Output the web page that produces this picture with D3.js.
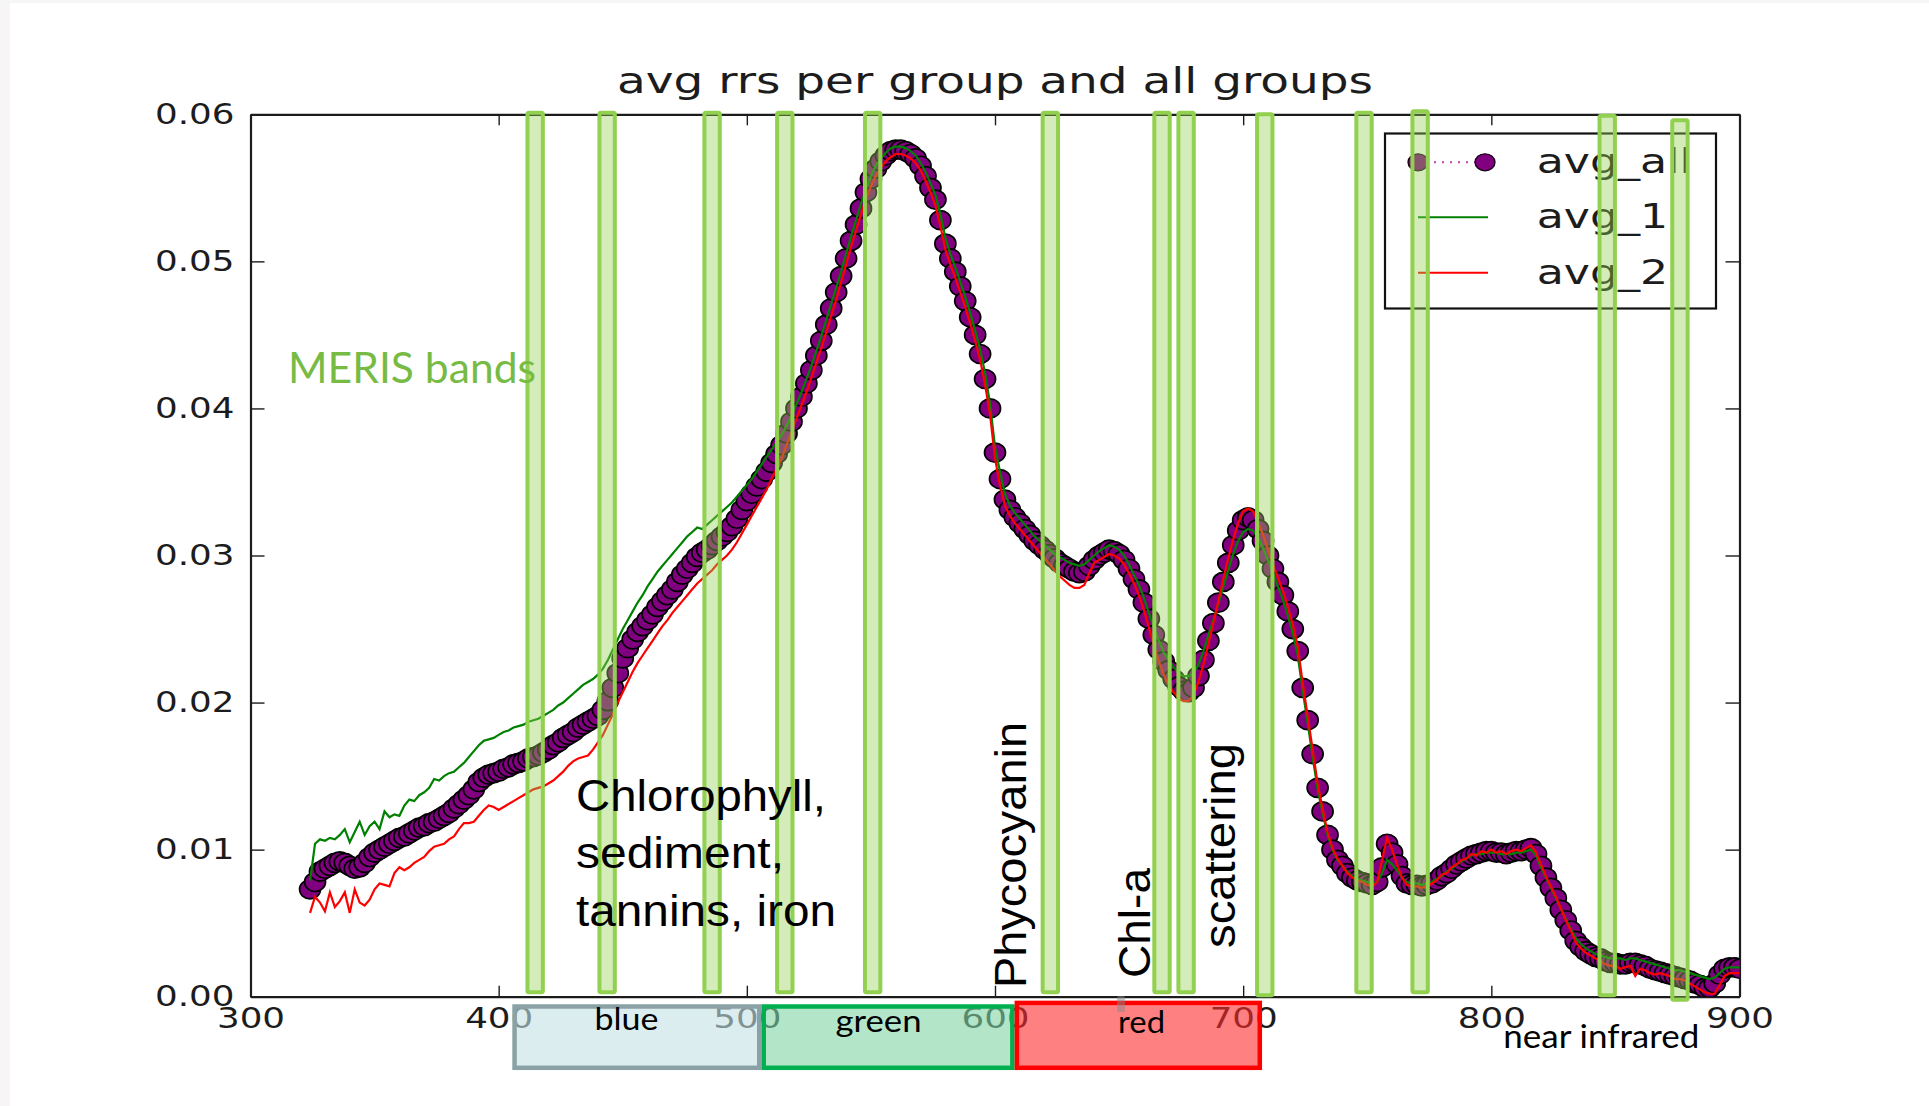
<!DOCTYPE html>
<html>
<head>
<meta charset="utf-8">
<script src="https://cdn.jsdelivr.net/npm/d3@7"></script>
<style>
body { margin: 0; background: #fff; }
svg { display: block; }
</style>
</head>
<body>
<svg id="chart"></svg>
<script>
// wavelength grid (nm), one reading every 2 nm
var wavelengths = d3.range(324, 901, 2);

// avg rrs of all groups (purple markers)
var avgAll = [
  0.0073, 0.0078, 0.0085, 0.0087, 0.0089, 0.0091, 0.0092, 0.0091, 0.0089, 0.0087,
  0.0088, 0.0091, 0.0095, 0.0098, 0.0100, 0.0102, 0.0104, 0.0106, 0.0108, 0.0109,
  0.0111, 0.0113, 0.0115, 0.0116, 0.0118, 0.0119, 0.0121, 0.0123, 0.0125, 0.0128,
  0.0131, 0.0134, 0.0137, 0.0141, 0.0146, 0.0149, 0.0151, 0.0152, 0.0153, 0.0155,
  0.0156, 0.0158, 0.0159, 0.0160, 0.0162, 0.0163, 0.0164, 0.0166, 0.0168, 0.0171,
  0.0173, 0.0176, 0.0178, 0.0180, 0.0183, 0.0185, 0.0187, 0.0189, 0.0191, 0.0195,
  0.0201, 0.0210, 0.0220, 0.0230, 0.0237, 0.0243, 0.0248, 0.0252, 0.0256, 0.0260,
  0.0265, 0.0269, 0.0273, 0.0277, 0.0282, 0.0287, 0.0291, 0.0295, 0.0299, 0.0302,
  0.0304, 0.0307, 0.0310, 0.0313, 0.0316, 0.0320, 0.0325, 0.0331, 0.0337, 0.0342,
  0.0347, 0.0352, 0.0357, 0.0363, 0.0369, 0.0375, 0.0383, 0.0391, 0.0400, 0.0408,
  0.0417, 0.0426, 0.0436, 0.0446, 0.0457, 0.0468, 0.0479, 0.0490, 0.0502, 0.0514,
  0.0525, 0.0536, 0.0547, 0.0556, 0.0563, 0.0568, 0.0572, 0.0575, 0.0576, 0.0576,
  0.0575, 0.0573, 0.0570, 0.0565, 0.0558, 0.0550, 0.0542, 0.0528, 0.0512, 0.0502,
  0.0493, 0.0483, 0.0473, 0.0462, 0.0450, 0.0437, 0.0420, 0.0400, 0.0370, 0.0352,
  0.0338, 0.0331, 0.0326, 0.0322, 0.0318, 0.0314, 0.0310, 0.0307, 0.0304, 0.0301,
  0.0298, 0.0295, 0.0293, 0.0291, 0.0289, 0.0288, 0.0289, 0.0293, 0.0297, 0.0300,
  0.0302, 0.0304, 0.0303, 0.0301, 0.0297, 0.0291, 0.0284, 0.0277, 0.0268, 0.0257,
  0.0246, 0.0236, 0.0228, 0.0222, 0.0216, 0.0211, 0.0208, 0.0207, 0.0210, 0.0218,
  0.0229, 0.0242, 0.0254, 0.0268, 0.0282, 0.0295, 0.0307, 0.0317, 0.0324, 0.0326,
  0.0324, 0.0318, 0.0310, 0.0300, 0.0291, 0.0282, 0.0273, 0.0262, 0.0250, 0.0235,
  0.0210, 0.0188, 0.0165, 0.0142, 0.0126, 0.0110, 0.0100, 0.0093, 0.0089, 0.0084,
  0.0081, 0.0079, 0.0078, 0.0077, 0.0076, 0.0078, 0.0088, 0.0104, 0.0098, 0.0090,
  0.0082, 0.0077, 0.0076, 0.0076, 0.0075, 0.0076, 0.0077, 0.0079, 0.0082, 0.0084,
  0.0087, 0.0090, 0.0092, 0.0094, 0.0096, 0.0097, 0.0098, 0.0099, 0.0099, 0.0098,
  0.0098, 0.0097, 0.0098, 0.0099, 0.0099, 0.0100, 0.0101, 0.0097, 0.0089, 0.0081,
  0.0074, 0.0067, 0.0059, 0.0052, 0.0045, 0.0038, 0.0034, 0.0031, 0.0029, 0.0027,
  0.0026, 0.0024, 0.0023, 0.0023, 0.0022, 0.0022, 0.0023, 0.0023, 0.0022, 0.0021,
  0.0019, 0.0018, 0.0017, 0.0016, 0.0015, 0.0014, 0.0013, 0.0012, 0.0011, 0.0009,
  0.0008, 0.0006, 0.0006, 0.0009, 0.0015, 0.0019, 0.0020, 0.0020, 0.0019
];

// group 1 (green line)
var avg1 = [
  0.0079, 0.0104, 0.0107, 0.0106, 0.0108, 0.0107, 0.0110, 0.0114, 0.0105, 0.0112,
  0.0119, 0.0110, 0.0116, 0.0119, 0.0114, 0.0126, 0.0122, 0.0124, 0.0123, 0.0130,
  0.0134, 0.0133, 0.0137, 0.0139, 0.0142, 0.0148, 0.0147, 0.0150, 0.0152, 0.0153,
  0.0156, 0.0159, 0.0163, 0.0167, 0.0171, 0.0174, 0.0175, 0.0176, 0.0178, 0.0180,
  0.0181, 0.0183, 0.0184, 0.0185, 0.0187, 0.0188, 0.0189, 0.0191, 0.0193, 0.0195,
  0.0198, 0.0200, 0.0203, 0.0206, 0.0209, 0.0212, 0.0214, 0.0216, 0.0219, 0.0223,
  0.0229, 0.0236, 0.0243, 0.0250, 0.0256, 0.0262, 0.0268, 0.0273, 0.0279, 0.0284,
  0.0289, 0.0293, 0.0297, 0.0301, 0.0305, 0.0309, 0.0313, 0.0316, 0.0319, 0.0318,
  0.0321, 0.0324, 0.0327, 0.0330, 0.0333, 0.0336, 0.0340, 0.0344, 0.0348, 0.0352,
  0.0357, 0.0362, 0.0367, 0.0372, 0.0377, 0.0382, 0.0388, 0.0395, 0.0403, 0.0411,
  0.0420, 0.0429, 0.0439, 0.0449, 0.0460, 0.0471, 0.0482, 0.0493, 0.0505, 0.0517,
  0.0528, 0.0539, 0.0549, 0.0558, 0.0565, 0.0570, 0.0574, 0.0577, 0.0578, 0.0578,
  0.0577, 0.0575, 0.0572, 0.0567, 0.0561, 0.0553, 0.0545, 0.0532, 0.0516, 0.0505,
  0.0496, 0.0486, 0.0476, 0.0465, 0.0453, 0.0440, 0.0424, 0.0403, 0.0374, 0.0357,
  0.0342, 0.0334, 0.0329, 0.0325, 0.0321, 0.0317, 0.0313, 0.0310, 0.0307, 0.0304,
  0.0301, 0.0299, 0.0297, 0.0295, 0.0294, 0.0293, 0.0294, 0.0297, 0.0300, 0.0303,
  0.0305, 0.0307, 0.0306, 0.0304, 0.0300, 0.0294, 0.0287, 0.0280, 0.0271, 0.0261,
  0.0251, 0.0242, 0.0234, 0.0229, 0.0224, 0.0220, 0.0218, 0.0218, 0.0220, 0.0226,
  0.0235, 0.0246, 0.0256, 0.0267, 0.0279, 0.0290, 0.0301, 0.0310, 0.0316, 0.0318,
  0.0317, 0.0312, 0.0305, 0.0297, 0.0288, 0.0279, 0.0270, 0.0259, 0.0247, 0.0232,
  0.0208, 0.0186, 0.0163, 0.0141, 0.0125, 0.0110, 0.0100, 0.0093, 0.0089, 0.0085,
  0.0082, 0.0080, 0.0079, 0.0078, 0.0077, 0.0078, 0.0084, 0.0093, 0.0090, 0.0086,
  0.0081, 0.0078, 0.0077, 0.0077, 0.0076, 0.0077, 0.0078, 0.0080, 0.0082, 0.0085,
  0.0087, 0.0090, 0.0092, 0.0094, 0.0096, 0.0097, 0.0097, 0.0098, 0.0098, 0.0098,
  0.0097, 0.0097, 0.0097, 0.0098, 0.0098, 0.0099, 0.0100, 0.0096, 0.0088, 0.0081,
  0.0074, 0.0067, 0.0060, 0.0053, 0.0046, 0.0040, 0.0036, 0.0033, 0.0031, 0.0029,
  0.0028, 0.0027, 0.0026, 0.0026, 0.0026, 0.0025, 0.0026, 0.0026, 0.0025, 0.0024,
  0.0023, 0.0022, 0.0021, 0.0020, 0.0019, 0.0018, 0.0018, 0.0017, 0.0016, 0.0015,
  0.0014, 0.0013, 0.0012, 0.0013, 0.0016, 0.0019, 0.0020, 0.0020, 0.0020
];

// group 2 (red line)
var avg2 = [
  0.0057, 0.0068, 0.0064, 0.0058, 0.0071, 0.0061, 0.0065, 0.0071, 0.0057, 0.0073,
  0.0064, 0.0062, 0.0066, 0.0073, 0.0077, 0.0076, 0.0075, 0.0084, 0.0088, 0.0086,
  0.0088, 0.0091, 0.0093, 0.0095, 0.0099, 0.0102, 0.0103, 0.0104, 0.0107, 0.0109,
  0.0114, 0.0118, 0.0118, 0.0119, 0.0123, 0.0127, 0.0130, 0.0129, 0.0127, 0.0129,
  0.0131, 0.0133, 0.0135, 0.0137, 0.0139, 0.0141, 0.0142, 0.0143, 0.0145, 0.0147,
  0.0150, 0.0153, 0.0157, 0.0160, 0.0162, 0.0163, 0.0164, 0.0168, 0.0173, 0.0178,
  0.0185, 0.0192, 0.0200, 0.0207, 0.0214, 0.0221, 0.0227, 0.0232, 0.0237, 0.0242,
  0.0247, 0.0252, 0.0256, 0.0261, 0.0265, 0.0269, 0.0273, 0.0277, 0.0281, 0.0284,
  0.0287, 0.0290, 0.0294, 0.0297, 0.0300, 0.0304, 0.0309, 0.0315, 0.0321, 0.0327,
  0.0333, 0.0339, 0.0345, 0.0352, 0.0359, 0.0366, 0.0375, 0.0384, 0.0393, 0.0402,
  0.0411, 0.0421, 0.0431, 0.0441, 0.0452, 0.0463, 0.0474, 0.0486, 0.0498, 0.0510,
  0.0521, 0.0532, 0.0542, 0.0551, 0.0558, 0.0564, 0.0568, 0.0571, 0.0573, 0.0573,
  0.0572, 0.0570, 0.0567, 0.0562, 0.0555, 0.0547, 0.0538, 0.0524, 0.0508, 0.0498,
  0.0489, 0.0479, 0.0469, 0.0458, 0.0446, 0.0433, 0.0416, 0.0396, 0.0366, 0.0348,
  0.0334, 0.0327, 0.0322, 0.0318, 0.0314, 0.0310, 0.0306, 0.0302, 0.0298, 0.0294,
  0.0290, 0.0286, 0.0283, 0.0280, 0.0278, 0.0278, 0.0280, 0.0288, 0.0295, 0.0297,
  0.0299, 0.0301, 0.0300, 0.0298, 0.0294, 0.0288, 0.0281, 0.0273, 0.0263, 0.0251,
  0.0239, 0.0228, 0.0219, 0.0212, 0.0207, 0.0203, 0.0201, 0.0201, 0.0205, 0.0214,
  0.0226, 0.0240, 0.0254, 0.0269, 0.0284, 0.0298, 0.0311, 0.0322, 0.0330, 0.0332,
  0.0330, 0.0323, 0.0314, 0.0304, 0.0294, 0.0285, 0.0276, 0.0265, 0.0253, 0.0238,
  0.0213, 0.0191, 0.0168, 0.0145, 0.0128, 0.0112, 0.0101, 0.0094, 0.0089, 0.0084,
  0.0081, 0.0079, 0.0078, 0.0076, 0.0075, 0.0078, 0.0093, 0.0108, 0.0100, 0.0090,
  0.0081, 0.0076, 0.0075, 0.0075, 0.0074, 0.0075, 0.0077, 0.0079, 0.0083, 0.0084,
  0.0088, 0.0090, 0.0093, 0.0094, 0.0097, 0.0096, 0.0099, 0.0098, 0.0100, 0.0098,
  0.0099, 0.0097, 0.0099, 0.0100, 0.0099, 0.0101, 0.0103, 0.0098, 0.0090, 0.0082,
  0.0075, 0.0068, 0.0060, 0.0052, 0.0045, 0.0037, 0.0033, 0.0030, 0.0028, 0.0026,
  0.0024, 0.0022, 0.0021, 0.0021, 0.0019, 0.0020, 0.0021, 0.0014, 0.0019, 0.0018,
  0.0016, 0.0015, 0.0016, 0.0015, 0.0014, 0.0012, 0.0012, 0.0011, 0.0009, 0.0007,
  0.0005, 0.0003, 0.0002, 0.0002, 0.0008, 0.0014, 0.0016, 0.0016, 0.0016
];

var seriesNames = ["avg_all", "avg_1", "avg_2"];
var xTicks = [300, 400, 500, 600, 700, 800, 900];
var yTicks = [0.00, 0.01, 0.02, 0.03, 0.04, 0.05, 0.06];

// MERIS bands as drawn on the slide (nm), with top / bottom in rrs units
var merisCenters = [414.7, 443.7, 486.0, 515.3, 550.7, 622.3, 667.3, 677.0, 708.7, 748.7, 771.3, 846.7, 876.0];
var merisTops    = [0.0601, 0.0601, 0.0601, 0.0601, 0.0601, 0.0601, 0.0601, 0.0601, 0.0600, 0.0601, 0.0602, 0.0599, 0.0596];
var merisBottoms = [0.0003, 0.0003, 0.0003, 0.0003, 0.0003, 0.0003, 0.0003, 0.0003, 0.0001, 0.0003, 0.0003, 0.0001, -0.0002];

// colour regions under the axis (nm)
var regionNames  = ["blue", "green", "red"];
var regionStarts = [406.4, 506.8, 608.8];
var regionEnds   = [505.0, 607.0, 706.7];

var dimensions = {
  width: 1929,
  height: 1106,
  margin: { left: 250.5, right: 189.5, top: 114.3, bottom: 109.3 }
};

var svg = d3.select("#chart")
  .attr("width", dimensions.width)
  .attr("height", dimensions.height)
  .style("background-color", "#fff");

// slide edge
svg.append("rect").attr("x", 0).attr("y", 0).attr("width", 10).attr("height", dimensions.height).attr("fill", "#f7f5f5");
svg.append("rect").attr("x", 0).attr("y", 0).attr("width", dimensions.width).attr("height", 3).attr("fill", "#f6f6f9");

var xScale = d3.scaleLinear()
  .domain([300, 900])
  .range([dimensions.margin.left, dimensions.width - dimensions.margin.right]);

var yScale = d3.scaleLinear()
  .domain([0, 0.06])
  .range([dimensions.height - dimensions.margin.bottom, dimensions.margin.top]);

function stretch(sel, k) {
  sel.each(function() {
    var w = this.getComputedTextLength();
    d3.select(this).attr("textLength", w * k).attr("lengthAdjust", "spacingAndGlyphs");
  });
}

function styleAxis(g) {
  g.attr("font-family", "DejaVu Sans").attr("font-size", 29).attr("color", "#1c1c1c");
  g.select(".domain").attr("stroke-width", 2.2);
  g.selectAll(".tick line").attr("stroke-width", 1.4);
}

// axes: ticks inside on all four sides
var xAxis = svg.append("g")
  .attr("transform", `translate(0,${yScale(0)})`)
  .call(d3.axisBottom(xScale).tickValues(xTicks).tickFormat(d3.format("d"))
    .tickSize(-11).tickSizeOuter(0).tickPadding(11))
  .call(styleAxis);

var yAxis = svg.append("g")
  .attr("transform", `translate(${xScale(300)},0)`)
  .call(d3.axisLeft(yScale).tickValues(yTicks).tickFormat(d3.format(".2f"))
    .tickSize(-14).tickSizeOuter(0).tickPadding(16))
  .call(styleAxis);

svg.append("g")
  .attr("transform", `translate(0,${yScale(0.06)})`)
  .call(d3.axisTop(xScale).tickValues(xTicks).tickFormat("").tickSize(-11).tickSizeOuter(0))
  .call(styleAxis);

svg.append("g")
  .attr("transform", `translate(${xScale(900)},0)`)
  .call(d3.axisRight(yScale).tickValues(yTicks).tickFormat("").tickSize(-14).tickSizeOuter(0))
  .call(styleAxis);

stretch(xAxis.selectAll("text"), 1.23);
stretch(yAxis.selectAll("text"), 1.23);

// title
svg.append("text")
  .attr("x", (xScale(300) + xScale(900)) / 2)
  .attr("y", 93)
  .attr("text-anchor", "middle")
  .attr("font-family", "DejaVu Sans")
  .attr("font-size", 36)
  .attr("fill", "#1c1c1c")
  .attr("textLength", 756)
  .attr("lengthAdjust", "spacingAndGlyphs")
  .text("avg rrs per group and all groups");

// plot area
svg.append("clipPath").attr("id", "plotclip")
  .append("rect")
  .attr("x", xScale(300)).attr("y", yScale(0.06))
  .attr("width", xScale(900) - xScale(300))
  .attr("height", yScale(0) - yScale(0.06));

var plot = svg.append("g").attr("clip-path", "url(#plotclip)");

var line = function(values) {
  return d3.line()
    .x(d => xScale(d[0]))
    .y(d => yScale(d[1]))(d3.zip(wavelengths, values));
};

plot.append("path")
  .attr("d", line(avgAll))
  .attr("fill", "none")
  .attr("stroke", "#bf3fbf")
  .attr("stroke-width", 2)
  .attr("stroke-dasharray", "2,5");

plot.append("g")
  .selectAll("ellipse")
  .data(d3.zip(wavelengths, avgAll))
  .enter()
  .append("ellipse")
  .attr("cx", d => xScale(d[0]))
  .attr("cy", d => yScale(d[1]))
  .attr("rx", 10.5)
  .attr("ry", 9.5)
  .attr("fill", "#800080")
  .attr("stroke", "#000")
  .attr("stroke-width", 1.7);

plot.append("path")
  .attr("d", line(avg1))
  .attr("fill", "none")
  .attr("stroke", "#008000")
  .attr("stroke-width", 2.2);

plot.append("path")
  .attr("d", line(avg2))
  .attr("fill", "none")
  .attr("stroke", "#ff0000")
  .attr("stroke-width", 2.2);

// legend
var legend = svg.append("g");
legend.append("rect")
  .attr("x", 1385).attr("y", 133.5)
  .attr("width", 331).attr("height", 175)
  .attr("fill", "#fff")
  .attr("stroke", "#111")
  .attr("stroke-width", 2.2);

var legendY = [162.3, 217.3, 272.7];

legend.append("line")
  .attr("x1", 1418).attr("x2", 1485).attr("y1", legendY[0]).attr("y2", legendY[0])
  .attr("stroke", "#bf3fbf").attr("stroke-width", 2).attr("stroke-dasharray", "2,6");
[1418, 1485].forEach(function(cx) {
  legend.append("ellipse")
    .attr("cx", cx).attr("cy", legendY[0]).attr("rx", 10).attr("ry", 8.5)
    .attr("fill", "#800080").attr("stroke", "#140014").attr("stroke-width", 1.3);
});
legend.append("line")
  .attr("x1", 1418).attr("x2", 1488).attr("y1", legendY[1]).attr("y2", legendY[1])
  .attr("stroke", "#008000").attr("stroke-width", 2);
legend.append("line")
  .attr("x1", 1418).attr("x2", 1488).attr("y1", legendY[2]).attr("y2", legendY[2])
  .attr("stroke", "#ff0000").attr("stroke-width", 2);

var legendText = legend.selectAll("text.leg")
  .data(seriesNames)
  .enter()
  .append("text")
  .attr("class", "leg")
  .attr("x", 1536.7)
  .attr("y", (d, i) => legendY[i] + 11)
  .attr("font-family", "DejaVu Sans")
  .attr("font-size", 34)
  .attr("fill", "#1c1c1c")
  .text(d => d);
stretch(legendText, 1.30);

// MERIS bands drawn over everything in the plot
var bandHalf = 3.1;
svg.append("g")
  .selectAll("rect")
  .data(merisCenters.map((c, i) => ({ c: c, top: merisTops[i], bottom: merisBottoms[i] })))
  .enter()
  .append("rect")
  .attr("x", d => xScale(d.c - bandHalf))
  .attr("width", d => xScale(d.c + bandHalf) - xScale(d.c - bandHalf))
  .attr("y", d => yScale(d.top))
  .attr("height", d => yScale(d.bottom) - yScale(d.top))
  .attr("rx", 1.5)
  .attr("fill", "#92d050")
  .attr("fill-opacity", 0.4)
  .attr("stroke", "#92d050")
  .attr("stroke-width", 4);

svg.append("text")
  .attr("x", 288)
  .attr("y", 382.7)
  .attr("font-family", "Lato")
  .attr("font-size", 42)
  .attr("fill", "#77bb44")
  .attr("textLength", 248)
  .attr("lengthAdjust", "spacingAndGlyphs")
  .text("MERIS bands");

// annotations
var notes = svg.append("g")
  .attr("font-family", "Liberation Sans")
  .attr("font-size", 45)
  .attr("fill", "#000");

[["Chlorophyll,", 810.7, 250], ["sediment,", 868.4, 208], ["tannins, iron", 926, 260]].forEach(function(n) {
  notes.append("text")
    .attr("x", 576).attr("y", n[1])
    .attr("textLength", n[2]).attr("lengthAdjust", "spacingAndGlyphs")
    .text(n[0]);
});

[["Phycocyanin", 1026, 988, 266], ["Chl-a", 1150, 978, 110], ["scattering", 1235, 948, 205]].forEach(function(n) {
  notes.append("text")
    .attr("transform", `translate(${n[1]},${n[2]}) rotate(-90)`)
    .attr("textLength", n[3]).attr("lengthAdjust", "spacingAndGlyphs")
    .text(n[0]);
});

// colour regions below the axis
var regionFill   = ["#c5e1e6", "#80d5a3", "#ff2b2b"];
var regionStroke = ["#8aa2a5", "#00b050", "#ff0000"];
var regionTop    = [1006.5, 1006.5, 1002.9];
var regionBottom = 1067.8;
var regionLabelX = [626.4, 878.5, 1141.6];
var regionLabelY = [1030, 1031.7, 1033.3];
var regionLabelW = [64, 86, 47];

var regions = svg.append("g");
regions.selectAll("rect")
  .data(regionNames)
  .enter()
  .append("rect")
  .attr("x", (d, i) => xScale(regionStarts[i]))
  .attr("width", (d, i) => xScale(regionEnds[i]) - xScale(regionStarts[i]))
  .attr("y", (d, i) => regionTop[i])
  .attr("height", (d, i) => regionBottom - regionTop[i])
  .attr("fill", (d, i) => regionFill[i])
  .attr("fill-opacity", 0.6)
  .attr("stroke", (d, i) => regionStroke[i])
  .attr("stroke-width", 4.5);

regions.append("rect")
  .attr("x", 1117).attr("y", 996).attr("width", 8).attr("height", 16).attr("rx", 2)
  .attr("fill", "#888").attr("fill-opacity", 0.5);

regions.selectAll("text")
  .data(regionNames)
  .enter()
  .append("text")
  .attr("x", (d, i) => regionLabelX[i])
  .attr("y", (d, i) => regionLabelY[i])
  .attr("text-anchor", "middle")
  .attr("font-family", "Lato")
  .attr("font-size", 30)
  .attr("fill", "#000")
  .attr("textLength", (d, i) => regionLabelW[i])
  .attr("lengthAdjust", "spacingAndGlyphs")
  .text(d => d);

svg.append("text")
  .attr("x", 1503.3)
  .attr("y", 1048.3)
  .attr("font-family", "Lato")
  .attr("font-size", 32)
  .attr("fill", "#000")
  .attr("textLength", 196)
  .attr("lengthAdjust", "spacingAndGlyphs")
  .text("near infrared");
</script>
</body>
</html>
